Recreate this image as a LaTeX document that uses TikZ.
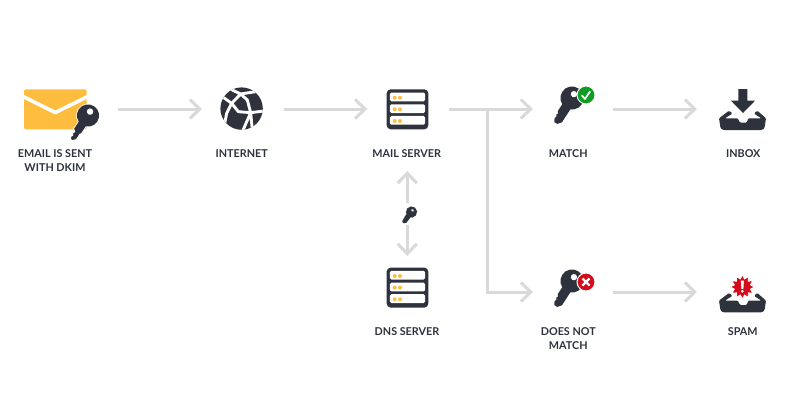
\documentclass[tikz,border=0pt]{standalone}
\usepackage{fontspec}
\setmainfont{Lato}
\usetikzlibrary{arrows.meta,calc}
\definecolor{ink}{HTML}{2D323C}
\definecolor{flow}{HTML}{D9D9D9}
\definecolor{gold}{HTML}{FFBD3F}
\definecolor{okgreen}{HTML}{0E9C22}
\definecolor{alarm}{HTML}{D40B1A}
\tikzset{
  flowline/.style={draw=flow,line width=3pt,-{Straight Barb[length=10pt,width=19pt,line width=3pt]}},
  plainline/.style={draw=flow,line width=3pt},
  port/.style={inner sep=0pt,outer sep=0pt},
  caption/.style={font=\bfseries\fontsize{10.8}{14}\selectfont,text=ink,align=center,inner sep=0pt},
}
\newcommand{\keyicon}[5][white]{%
  \begin{scope}[shift={(#2,#3)},scale=#4,rotate=#5]
    \path[fill=ink,draw=#1,line width=1.6pt]
      (0,0) circle (11.3);
    \path[fill=ink,draw=#1,line width=1.6pt]
      (4,-4.2) -- (27,-4.2) -- (30.5,-1.4) -- (30.5,1.4) -- (27.5,3) -- (25.5,2) -- (23.5,3.4) -- (21.5,2.4) -- (19.5,4.2) -- (6,4.2) -- cycle;
    \fill[ink] (0,0) circle (11.3);
    \fill[ink] (3,-4.2) rectangle (19.5,4.2);
    \fill[white] (-4.5,0.5) circle (3.3);
  \end{scope}}
\newcommand{\servericon}[2]{%
  \begin{scope}[shift={(#1,#2)}]
    \fill[ink,rounded corners=4pt] (-20.8,0) rectangle (20.8,40);
    \foreach \r in {3.2,15,26.6}{
      \fill[white,rounded corners=1.5pt] (-17.6,\r) rectangle (17.6,\r+8.8);
    }
    \foreach \r in {8.4,20,31.7}{
      \fill[gold] (-12.8,\r) circle (2);
      \fill[gold] (-7.5,\r) circle (2);
    }
  \end{scope}}
\newcommand{\trayicon}[2]{%
  \begin{scope}[shift={(#1,#2)}]
    \fill[ink,rounded corners=1pt]
      (719,118.3) -- (729,110.7) -- (732.5,113.5) -- (725,118.3) -- (737.7,118.3) -- (740,122.7) -- (746.7,122.7) -- (748.3,118.3) -- (761.3,118.3) -- (754,113.5) -- (757.3,110.7) -- (766,118.3) -- (764.5,128) -- (762,130) -- (723,130) -- (720.5,128) -- cycle;
  \end{scope}}
\begin{document}
\begin{tikzpicture}[x=1pt,y=-1pt]
\useasboundingbox (0,0) rectangle (795,416);
\fill[white] (0,0) rectangle (795,416);

% connector ports
\node[port,minimum width=116pt,minimum height=20pt] (email) at (60,109) {};
\node[port,minimum width=82pt,minimum height=44pt] (internet) at (243,109) {};
\node[port,minimum width=82pt,minimum height=124pt] (mail) at (408.3,109) {};
\node[port,minimum width=80pt,minimum height=20pt] (match) at (573,109) {};
\node[port,minimum width=92pt,minimum height=20pt] (inbox) at (743,109) {};
\node[port,minimum width=80pt,minimum height=20pt] (nomatch) at (573,292) {};
\node[port,minimum width=92pt,minimum height=20pt] (spam) at (743,292) {};
\node[port,minimum width=20pt,minimum height=22pt] (pubkey) at (407.3,214) {};
\node[port,minimum width=20pt,minimum height=60pt] (dns) at (407.3,286) {};
\coordinate (branch) at (487.5,109);

% connectors
\draw[flowline] (email.east) -- (internet.west);
\draw[flowline] (internet.east) -- (mail.west);
\draw[flowline] (mail.east) -- (match.west);
\draw[plainline] (branch) -- (branch |- nomatch);
\draw[flowline] (branch |- nomatch) ++(-1.5,0) -- (nomatch.west);
\draw[flowline] (match.east) -- (inbox.west);
\draw[flowline] (nomatch.east) -- (spam.west);
\draw[flowline] (pubkey.north) -- (pubkey.north |- mail.south);
\draw[flowline] (pubkey.south) -- (dns.north);

% email icon
\fill[gold,rounded corners=1.5pt] (24,89.3) rectangle (86.7,129.3);
\draw[white,line width=3.6pt,line join=round] (23,96.5) -- (55.3,112.5) -- (87.7,96.5);
\keyicon{88}{115.5}{0.98}{236}

% globe
\fill[ink] (241.6,108.6) circle (21.2);
\begin{scope}[shift={(210,80)},scale=0.3333]
  \clip (95,86) circle (63.6);
  \draw[white,line width=2.9pt,line join=round,line cap=round]
    (50,22) -- (92,42) -- (130,36) -- (165,32)
    (92,42) -- (65,70) -- (30,45)
    (65,70) -- (50,100) -- (42,140)
    (65,70) -- (85,95) -- (122,98) -- (170,92)
    (92,42) -- (112,60) -- (122,98)
    (122,98) -- (95,160)
    (122,98) -- (128,160);
\end{scope}

% servers
\servericon{407.5}{89.3}
\servericon{407.5}{267.6}

% small key between the servers
\keyicon[ink]{411.5}{212}{0.42}{232}

% match / no match keys
\keyicon[ink]{572}{98}{0.95}{237}
\fill[okgreen,draw=white,line width=1pt] (586,95) circle (9);
\draw[white,line width=1.7pt,line cap=round,line join=round] (582,95.5) -- (585,99) -- (590,91.5);
\keyicon[ink]{572}{281}{0.95}{237}
\fill[alarm,draw=white,line width=1pt] (586,282) circle (9);
\draw[white,line width=2.2pt] (582.5,278.5) -- (589.5,285.5) (589.5,278.5) -- (582.5,285.5);

% inbox
\fill[ink] (738.3,89) -- (747.3,89) -- (747.3,100.7) -- (755,100.7) -- (743,113) -- (731,100.7) -- (738.3,100.7) -- cycle;
\trayicon{0}{0}

% spam
\trayicon{0}{182.3}
\fill[alarm,draw=white,line width=0.8pt]
  plot[samples=25,domain=0:360,variable=\t] ({742.4+(mod(round(\t/15),2)==0 ? 12 : 8.3)*cos(\t)},{287+(mod(round(\t/15),2)==0 ? 12 : 8.3)*sin(\t)}) -- cycle;
\fill[white] (740.9,280.5) -- (743.9,280.5) -- (743.4,288.8) -- (741.4,288.8) -- cycle;
\fill[white] (742.4,291.3) circle (1.5);

% labels
\node[caption] (t1) at (55,160.4) {EMAIL IS SENT\\WITH DKIM};
\node[caption] (t2) at (241.7,153.7) {INTERNET};
\node[caption] (t3) at (406.7,153.7) {MAIL SERVER};
\node[caption] (t4) at (407,331.7) {DNS SERVER};
\node[caption] (t5) at (568.3,153.7) {MATCH};
\node[caption] (t6) at (743.3,153.7) {INBOX};
\node[caption] (t7) at (568.3,338.7) {DOES NOT\\MATCH};
\node[caption] (t8) at (742.7,331.7) {SPAM};
\end{tikzpicture}
\end{document}
